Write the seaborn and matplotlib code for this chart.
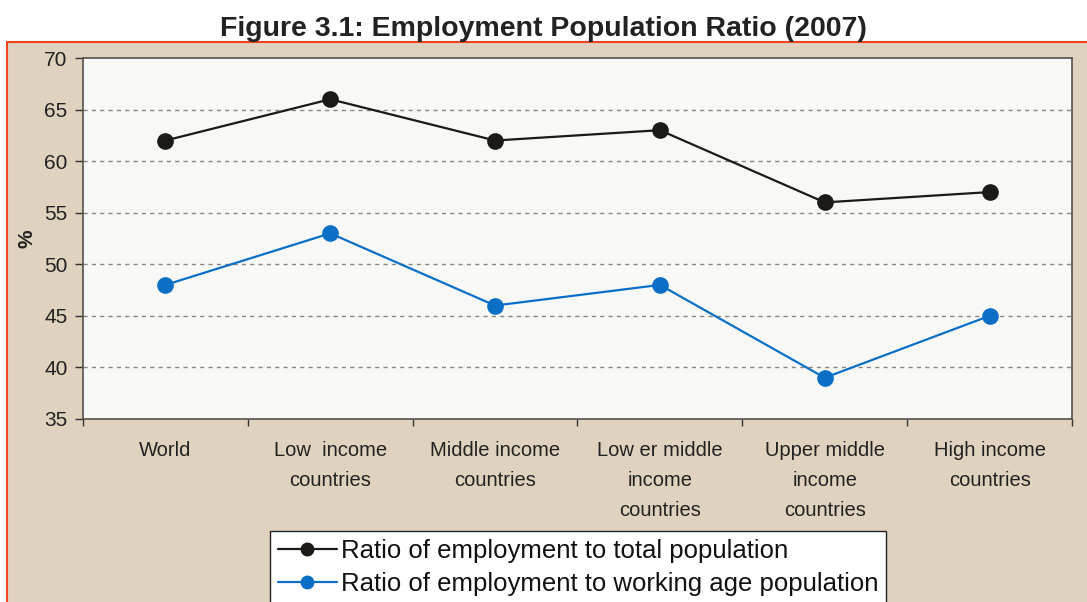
import matplotlib
matplotlib.use("Agg")
import matplotlib.pyplot as plt
import seaborn as sns
import pandas as pd
from matplotlib.patches import Rectangle

categories = ["World", "Low  income\ncountries", "Middle income\ncountries",
              "Low er middle\nincome\ncountries", "Upper middle\nincome\ncountries",
              "High income\ncountries"]
total_pop = [62, 66, 62, 63, 56, 57]
working_age = [48, 53, 46, 48, 39, 45]
series_names = ["Ratio of employment to total population",
                "Ratio of employment to working age population"]
y_ticks = [35, 40, 45, 50, 55, 60, 65, 70]

sns.set_theme(style="white")
plt.rcParams['font.family'] = ['Liberation Sans', 'DejaVu Sans']

df = pd.DataFrame({
    "x": list(range(len(categories))) * 2,
    "value": total_pop + working_age,
    "series": [series_names[0]] * 6 + [series_names[1]] * 6,
})

fig = plt.figure(figsize=(10.87, 6.02), dpi=100, facecolor="white")
bg = Rectangle((7 / 1087, -0.02), 1.05, 0.95, transform=fig.transFigure,
               facecolor="#dfd2bf", edgecolor="#ee4422", linewidth=1.5, zorder=-10)
fig.patches.append(bg)

ax = fig.add_axes([83 / 1087, 1 - 419 / 602, (1072 - 83) / 1087, (419 - 58) / 602])
ax.set_facecolor("#f8f8f6")

palette = {series_names[0]: "#1c1a16", series_names[1]: "#0b6fc6"}
sns.lineplot(data=df, x="x", y="value", hue="series", palette=palette,
             marker="o", markersize=12, linewidth=1.6, markeredgewidth=0,
             ax=ax, legend=False, zorder=3)

ax.set_xlim(-0.5, len(categories) - 0.5)
ax.set_ylim(35, 70)
ax.set_yticks(y_ticks)
ax.set_yticklabels([str(v) for v in y_ticks], fontsize=15, color="#222222")
ax.set_xticks(range(len(categories)))
ax.set_xticklabels(categories, fontsize=14.5, color="#222222", linespacing=1.73,
                   va="top")
ax.set_xticks([i - 0.5 for i in range(len(categories) + 1)], minor=True)
ax.tick_params(axis="x", which="major", length=0, pad=16)
ax.tick_params(axis="x", which="minor", length=5, width=1, color="#333333",
               direction="out", bottom=True)
ax.tick_params(axis="y", which="major", length=6, width=1, color="#333333",
               direction="out", left=True, pad=5)
for v in y_ticks[1:-1]:
    ax.axhline(v, color="#8a8680", linestyle=(0, (3, 3)), linewidth=1, zorder=1)
for s in ax.spines.values():
    s.set_color("#55504a")
    s.set_linewidth(1.2)
ax.set_xlabel("")
ax.set_ylabel("%", fontsize=15, fontweight="bold", color="#222222", labelpad=6)

fig.text(0.5, 0.952, "Figure 3.1: Employment Population Ratio (2007)",
         ha="center", va="center", fontsize=20.5, fontweight="bold", color="#222222")

handles = [plt.Line2D([], [], color=palette[n], marker="o", markersize=10,
                      linewidth=1.6, markeredgewidth=0) for n in series_names]
leg = fig.legend(handles, series_names, loc="upper center",
                 bbox_to_anchor=(578 / 1087, 1 - 531 / 602), fontsize=18.5,
                 frameon=True, fancybox=False, edgecolor="#222222",
                 facecolor="white", framealpha=1, handlelength=2.3,
                 handletextpad=0.15, borderpad=0.3, labelspacing=0.35,
                 borderaxespad=0.0)
leg.get_frame().set_linewidth(1.0)
for t in leg.get_texts():
    t.set_color("#111111")

fig.savefig("out.png", dpi=100, facecolor=fig.get_facecolor())
